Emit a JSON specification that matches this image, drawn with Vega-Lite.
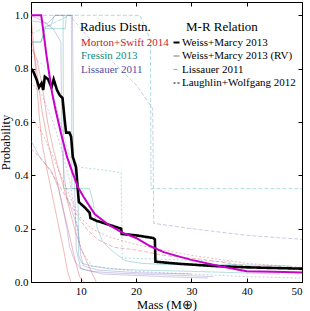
{
  "$schema": "https://vega.github.io/schema/vega-lite/v6.json",
  "width": 271,
  "height": 280,
  "autosize": "none",
  "padding": {"left": 31, "top": 2, "right": 8, "bottom": 29},
  "config": {
    "view": {"stroke": "black", "strokeWidth": 1},
    "font": "Liberation Serif",
    "axis": {"grid": false, "domainColor": "black", "tickColor": "black", "labelColor": "black", "titleColor": "black", "labelFont": "Liberation Serif", "titleFont": "Liberation Serif", "labelFontSize": 11, "titleFontSize": 12.5, "titleFontWeight": "normal", "tickSize": -4, "labelPadding": 7},
    "legend": {"labelFont": "Liberation Serif", "titleFont": "Liberation Serif", "titleFontWeight": "normal", "titleColor": "black"}
  },
  "datasets": {
    "faint": [
      {"id":"R1","src":"Morton+Swift 2014","mr":"Weiss+Marcy 2013","m":1,"p":1.0},{"id":"R1","src":"Morton+Swift 2014","mr":"Weiss+Marcy 2013","m":1.5,"p":0.88},{"id":"R1","src":"Morton+Swift 2014","mr":"Weiss+Marcy 2013","m":2,"p":0.75},{"id":"R1","src":"Morton+Swift 2014","mr":"Weiss+Marcy 2013","m":2.5,"p":0.62},{"id":"R1","src":"Morton+Swift 2014","mr":"Weiss+Marcy 2013","m":3,"p":0.52},{"id":"R1","src":"Morton+Swift 2014","mr":"Weiss+Marcy 2013","m":4,"p":0.41},{"id":"R1","src":"Morton+Swift 2014","mr":"Weiss+Marcy 2013","m":5,"p":0.31},{"id":"R1","src":"Morton+Swift 2014","mr":"Weiss+Marcy 2013","m":6,"p":0.21},{"id":"R1","src":"Morton+Swift 2014","mr":"Weiss+Marcy 2013","m":7,"p":0.11},{"id":"R1","src":"Morton+Swift 2014","mr":"Weiss+Marcy 2013","m":7.6,"p":0.04},{"id":"R1","src":"Morton+Swift 2014","mr":"Weiss+Marcy 2013","m":8.2,"p":0.0},
      {"id":"R2","src":"Morton+Swift 2014","mr":"Weiss+Marcy 2013 (RV)","m":1,"p":0.93},{"id":"R2","src":"Morton+Swift 2014","mr":"Weiss+Marcy 2013 (RV)","m":2,"p":0.8},{"id":"R2","src":"Morton+Swift 2014","mr":"Weiss+Marcy 2013 (RV)","m":3,"p":0.64},{"id":"R2","src":"Morton+Swift 2014","mr":"Weiss+Marcy 2013 (RV)","m":4,"p":0.53},{"id":"R2","src":"Morton+Swift 2014","mr":"Weiss+Marcy 2013 (RV)","m":5,"p":0.44},{"id":"R2","src":"Morton+Swift 2014","mr":"Weiss+Marcy 2013 (RV)","m":6,"p":0.35},{"id":"R2","src":"Morton+Swift 2014","mr":"Weiss+Marcy 2013 (RV)","m":7,"p":0.26},{"id":"R2","src":"Morton+Swift 2014","mr":"Weiss+Marcy 2013 (RV)","m":8,"p":0.17},{"id":"R2","src":"Morton+Swift 2014","mr":"Weiss+Marcy 2013 (RV)","m":9,"p":0.08},{"id":"R2","src":"Morton+Swift 2014","mr":"Weiss+Marcy 2013 (RV)","m":9.8,"p":0.02},{"id":"R2","src":"Morton+Swift 2014","mr":"Weiss+Marcy 2013 (RV)","m":10.5,"p":0.0},
      {"id":"R3","src":"Morton+Swift 2014","mr":"Weiss+Marcy 2013 (RV)","m":1,"p":0.88},{"id":"R3","src":"Morton+Swift 2014","mr":"Weiss+Marcy 2013 (RV)","m":2,"p":0.84},{"id":"R3","src":"Morton+Swift 2014","mr":"Weiss+Marcy 2013 (RV)","m":3,"p":0.74},{"id":"R3","src":"Morton+Swift 2014","mr":"Weiss+Marcy 2013 (RV)","m":4,"p":0.6},{"id":"R3","src":"Morton+Swift 2014","mr":"Weiss+Marcy 2013 (RV)","m":5,"p":0.5},{"id":"R3","src":"Morton+Swift 2014","mr":"Weiss+Marcy 2013 (RV)","m":6,"p":0.42},{"id":"R3","src":"Morton+Swift 2014","mr":"Weiss+Marcy 2013 (RV)","m":7,"p":0.35},{"id":"R3","src":"Morton+Swift 2014","mr":"Weiss+Marcy 2013 (RV)","m":8,"p":0.27},{"id":"R3","src":"Morton+Swift 2014","mr":"Weiss+Marcy 2013 (RV)","m":9,"p":0.19},{"id":"R3","src":"Morton+Swift 2014","mr":"Weiss+Marcy 2013 (RV)","m":10,"p":0.13},{"id":"R3","src":"Morton+Swift 2014","mr":"Weiss+Marcy 2013 (RV)","m":11,"p":0.08},{"id":"R3","src":"Morton+Swift 2014","mr":"Weiss+Marcy 2013 (RV)","m":12,"p":0.035},{"id":"R3","src":"Morton+Swift 2014","mr":"Weiss+Marcy 2013 (RV)","m":12.8,"p":0.0},
      {"id":"R4","src":"Morton+Swift 2014","mr":"Lissauer 2011","m":1,"p":0.5},{"id":"R4","src":"Morton+Swift 2014","mr":"Lissauer 2011","m":3,"p":0.46},{"id":"R4","src":"Morton+Swift 2014","mr":"Lissauer 2011","m":5,"p":0.4},{"id":"R4","src":"Morton+Swift 2014","mr":"Lissauer 2011","m":7,"p":0.33},{"id":"R4","src":"Morton+Swift 2014","mr":"Lissauer 2011","m":9,"p":0.26},{"id":"R4","src":"Morton+Swift 2014","mr":"Lissauer 2011","m":11,"p":0.2},{"id":"R4","src":"Morton+Swift 2014","mr":"Lissauer 2011","m":13,"p":0.16},{"id":"R4","src":"Morton+Swift 2014","mr":"Lissauer 2011","m":16,"p":0.13},{"id":"R4","src":"Morton+Swift 2014","mr":"Lissauer 2011","m":20,"p":0.12},{"id":"R4","src":"Morton+Swift 2014","mr":"Lissauer 2011","m":25,"p":0.1},{"id":"R4","src":"Morton+Swift 2014","mr":"Lissauer 2011","m":32,"p":0.085},{"id":"R4","src":"Morton+Swift 2014","mr":"Lissauer 2011","m":40,"p":0.06},{"id":"R4","src":"Morton+Swift 2014","mr":"Lissauer 2011","m":50,"p":0.045},
      {"id":"R5","src":"Morton+Swift 2014","mr":"Laughlin+Wolfgang 2012","m":1,"p":0.62},{"id":"R5","src":"Morton+Swift 2014","mr":"Laughlin+Wolfgang 2012","m":3,"p":0.56},{"id":"R5","src":"Morton+Swift 2014","mr":"Laughlin+Wolfgang 2012","m":5,"p":0.47},{"id":"R5","src":"Morton+Swift 2014","mr":"Laughlin+Wolfgang 2012","m":7,"p":0.37},{"id":"R5","src":"Morton+Swift 2014","mr":"Laughlin+Wolfgang 2012","m":8.5,"p":0.3},{"id":"R5","src":"Morton+Swift 2014","mr":"Laughlin+Wolfgang 2012","m":10,"p":0.24},{"id":"R5","src":"Morton+Swift 2014","mr":"Laughlin+Wolfgang 2012","m":12,"p":0.2},{"id":"R5","src":"Morton+Swift 2014","mr":"Laughlin+Wolfgang 2012","m":15,"p":0.17},{"id":"R5","src":"Morton+Swift 2014","mr":"Laughlin+Wolfgang 2012","m":20,"p":0.14},{"id":"R5","src":"Morton+Swift 2014","mr":"Laughlin+Wolfgang 2012","m":30,"p":0.1},{"id":"R5","src":"Morton+Swift 2014","mr":"Laughlin+Wolfgang 2012","m":40,"p":0.07},{"id":"R5","src":"Morton+Swift 2014","mr":"Laughlin+Wolfgang 2012","m":50,"p":0.055},
      {"id":"T1","src":"Fressin 2013","mr":"Weiss+Marcy 2013","m":1,"p":0.9},{"id":"T1","src":"Fressin 2013","mr":"Weiss+Marcy 2013","m":2.8,"p":0.9},{"id":"T1","src":"Fressin 2013","mr":"Weiss+Marcy 2013","m":3.7,"p":0.96},{"id":"T1","src":"Fressin 2013","mr":"Weiss+Marcy 2013","m":4.6,"p":0.96},{"id":"T1","src":"Fressin 2013","mr":"Weiss+Marcy 2013","m":5.2,"p":1.0},{"id":"T1","src":"Fressin 2013","mr":"Weiss+Marcy 2013","m":6.8,"p":1.0},{"id":"T1","src":"Fressin 2013","mr":"Weiss+Marcy 2013","m":6.9,"p":0.35},{"id":"T1","src":"Fressin 2013","mr":"Weiss+Marcy 2013","m":9.5,"p":0.35},{"id":"T1","src":"Fressin 2013","mr":"Weiss+Marcy 2013","m":9.6,"p":0.1},{"id":"T1","src":"Fressin 2013","mr":"Weiss+Marcy 2013","m":10.2,"p":0.07},{"id":"T1","src":"Fressin 2013","mr":"Weiss+Marcy 2013","m":12,"p":0.06},{"id":"T1","src":"Fressin 2013","mr":"Weiss+Marcy 2013","m":15,"p":0.05},{"id":"T1","src":"Fressin 2013","mr":"Weiss+Marcy 2013","m":20,"p":0.045},{"id":"T1","src":"Fressin 2013","mr":"Weiss+Marcy 2013","m":30,"p":0.04},{"id":"T1","src":"Fressin 2013","mr":"Weiss+Marcy 2013","m":46,"p":0.03},
      {"id":"T2","src":"Fressin 2013","mr":"Weiss+Marcy 2013 (RV)","m":1,"p":0.9},{"id":"T2","src":"Fressin 2013","mr":"Weiss+Marcy 2013 (RV)","m":2.8,"p":0.9},{"id":"T2","src":"Fressin 2013","mr":"Weiss+Marcy 2013 (RV)","m":3.5,"p":0.95},{"id":"T2","src":"Fressin 2013","mr":"Weiss+Marcy 2013 (RV)","m":7.2,"p":0.95},{"id":"T2","src":"Fressin 2013","mr":"Weiss+Marcy 2013 (RV)","m":7.4,"p":1.0},{"id":"T2","src":"Fressin 2013","mr":"Weiss+Marcy 2013 (RV)","m":8.3,"p":1.0},{"id":"T2","src":"Fressin 2013","mr":"Weiss+Marcy 2013 (RV)","m":8.4,"p":0.35},{"id":"T2","src":"Fressin 2013","mr":"Weiss+Marcy 2013 (RV)","m":11.6,"p":0.35},{"id":"T2","src":"Fressin 2013","mr":"Weiss+Marcy 2013 (RV)","m":12.2,"p":0.3},{"id":"T2","src":"Fressin 2013","mr":"Weiss+Marcy 2013 (RV)","m":13,"p":0.2},{"id":"T2","src":"Fressin 2013","mr":"Weiss+Marcy 2013 (RV)","m":14,"p":0.15},{"id":"T2","src":"Fressin 2013","mr":"Weiss+Marcy 2013 (RV)","m":15.5,"p":0.12},{"id":"T2","src":"Fressin 2013","mr":"Weiss+Marcy 2013 (RV)","m":18,"p":0.08},{"id":"T2","src":"Fressin 2013","mr":"Weiss+Marcy 2013 (RV)","m":21,"p":0.07},{"id":"T2","src":"Fressin 2013","mr":"Weiss+Marcy 2013 (RV)","m":26,"p":0.065},{"id":"T2","src":"Fressin 2013","mr":"Weiss+Marcy 2013 (RV)","m":38,"p":0.065},{"id":"T2","src":"Fressin 2013","mr":"Weiss+Marcy 2013 (RV)","m":48,"p":0.06},
      {"id":"T3","src":"Fressin 2013","mr":"Lissauer 2011","m":1,"p":0.93},{"id":"T3","src":"Fressin 2013","mr":"Lissauer 2011","m":4,"p":0.96},{"id":"T3","src":"Fressin 2013","mr":"Lissauer 2011","m":8,"p":1.0},{"id":"T3","src":"Fressin 2013","mr":"Lissauer 2011","m":20.7,"p":1.0},{"id":"T3","src":"Fressin 2013","mr":"Lissauer 2011","m":22,"p":0.94},{"id":"T3","src":"Fressin 2013","mr":"Lissauer 2011","m":22.6,"p":0.9},{"id":"T3","src":"Fressin 2013","mr":"Lissauer 2011","m":22.7,"p":0.35},{"id":"T3","src":"Fressin 2013","mr":"Lissauer 2011","m":50,"p":0.35},
      {"id":"T4","src":"Fressin 2013","mr":"Laughlin+Wolfgang 2012","m":1,"p":0.85},{"id":"T4","src":"Fressin 2013","mr":"Laughlin+Wolfgang 2012","m":4,"p":0.8},{"id":"T4","src":"Fressin 2013","mr":"Laughlin+Wolfgang 2012","m":6,"p":0.62},{"id":"T4","src":"Fressin 2013","mr":"Laughlin+Wolfgang 2012","m":8,"p":0.47},{"id":"T4","src":"Fressin 2013","mr":"Laughlin+Wolfgang 2012","m":10,"p":0.43},{"id":"T4","src":"Fressin 2013","mr":"Laughlin+Wolfgang 2012","m":14,"p":0.42},{"id":"T4","src":"Fressin 2013","mr":"Laughlin+Wolfgang 2012","m":17.3,"p":0.41},{"id":"T4","src":"Fressin 2013","mr":"Laughlin+Wolfgang 2012","m":17.5,"p":0.09},{"id":"T4","src":"Fressin 2013","mr":"Laughlin+Wolfgang 2012","m":25,"p":0.085},{"id":"T4","src":"Fressin 2013","mr":"Laughlin+Wolfgang 2012","m":32,"p":0.08},{"id":"T4","src":"Fressin 2013","mr":"Laughlin+Wolfgang 2012","m":37,"p":0.075},{"id":"T4","src":"Fressin 2013","mr":"Laughlin+Wolfgang 2012","m":38.5,"p":0.04},{"id":"T4","src":"Fressin 2013","mr":"Laughlin+Wolfgang 2012","m":50,"p":0.035},
      {"id":"P1","src":"Lissauer 2011","mr":"Weiss+Marcy 2013","m":1,"p":0.53},{"id":"P1","src":"Lissauer 2011","mr":"Weiss+Marcy 2013","m":2.8,"p":0.46},{"id":"P1","src":"Lissauer 2011","mr":"Weiss+Marcy 2013","m":4.6,"p":0.42},{"id":"P1","src":"Lissauer 2011","mr":"Weiss+Marcy 2013","m":6,"p":0.35},{"id":"P1","src":"Lissauer 2011","mr":"Weiss+Marcy 2013","m":7,"p":0.25},{"id":"P1","src":"Lissauer 2011","mr":"Weiss+Marcy 2013","m":7.5,"p":0.2},{"id":"P1","src":"Lissauer 2011","mr":"Weiss+Marcy 2013","m":8,"p":0.13},{"id":"P1","src":"Lissauer 2011","mr":"Weiss+Marcy 2013","m":9,"p":0.075},{"id":"P1","src":"Lissauer 2011","mr":"Weiss+Marcy 2013","m":10,"p":0.05},{"id":"P1","src":"Lissauer 2011","mr":"Weiss+Marcy 2013","m":12,"p":0.04},{"id":"P1","src":"Lissauer 2011","mr":"Weiss+Marcy 2013","m":15,"p":0.035},{"id":"P1","src":"Lissauer 2011","mr":"Weiss+Marcy 2013","m":20,"p":0.03},{"id":"P1","src":"Lissauer 2011","mr":"Weiss+Marcy 2013","m":28,"p":0.025},{"id":"P1","src":"Lissauer 2011","mr":"Weiss+Marcy 2013","m":34,"p":0.02},
      {"id":"P2","src":"Lissauer 2011","mr":"Weiss+Marcy 2013 (RV)","m":1,"p":1.0},{"id":"P2","src":"Lissauer 2011","mr":"Weiss+Marcy 2013 (RV)","m":3,"p":0.98},{"id":"P2","src":"Lissauer 2011","mr":"Weiss+Marcy 2013 (RV)","m":5,"p":0.95},{"id":"P2","src":"Lissauer 2011","mr":"Weiss+Marcy 2013 (RV)","m":6.4,"p":0.9},{"id":"P2","src":"Lissauer 2011","mr":"Weiss+Marcy 2013 (RV)","m":6.6,"p":0.5},{"id":"P2","src":"Lissauer 2011","mr":"Weiss+Marcy 2013 (RV)","m":7,"p":0.4},{"id":"P2","src":"Lissauer 2011","mr":"Weiss+Marcy 2013 (RV)","m":7.5,"p":0.32},{"id":"P2","src":"Lissauer 2011","mr":"Weiss+Marcy 2013 (RV)","m":8.5,"p":0.26},{"id":"P2","src":"Lissauer 2011","mr":"Weiss+Marcy 2013 (RV)","m":9.5,"p":0.2},{"id":"P2","src":"Lissauer 2011","mr":"Weiss+Marcy 2013 (RV)","m":10,"p":0.1},{"id":"P2","src":"Lissauer 2011","mr":"Weiss+Marcy 2013 (RV)","m":10.5,"p":0.06},{"id":"P2","src":"Lissauer 2011","mr":"Weiss+Marcy 2013 (RV)","m":13,"p":0.045},{"id":"P2","src":"Lissauer 2011","mr":"Weiss+Marcy 2013 (RV)","m":20,"p":0.035},{"id":"P2","src":"Lissauer 2011","mr":"Weiss+Marcy 2013 (RV)","m":30,"p":0.03},
      {"id":"P3","src":"Lissauer 2011","mr":"Lissauer 2011","m":1,"p":1.0},{"id":"P3","src":"Lissauer 2011","mr":"Lissauer 2011","m":8,"p":1.0},{"id":"P3","src":"Lissauer 2011","mr":"Lissauer 2011","m":10,"p":0.95},{"id":"P3","src":"Lissauer 2011","mr":"Lissauer 2011","m":13,"p":0.88},{"id":"P3","src":"Lissauer 2011","mr":"Lissauer 2011","m":16,"p":0.82},{"id":"P3","src":"Lissauer 2011","mr":"Lissauer 2011","m":20,"p":0.74},{"id":"P3","src":"Lissauer 2011","mr":"Lissauer 2011","m":22,"p":0.68},{"id":"P3","src":"Lissauer 2011","mr":"Lissauer 2011","m":23,"p":0.65},{"id":"P3","src":"Lissauer 2011","mr":"Lissauer 2011","m":23.2,"p":0.22},{"id":"P3","src":"Lissauer 2011","mr":"Lissauer 2011","m":30,"p":0.2},{"id":"P3","src":"Lissauer 2011","mr":"Lissauer 2011","m":40,"p":0.175},{"id":"P3","src":"Lissauer 2011","mr":"Lissauer 2011","m":50,"p":0.16},
      {"id":"P4","src":"Lissauer 2011","mr":"Laughlin+Wolfgang 2012","m":1,"p":0.75},{"id":"P4","src":"Lissauer 2011","mr":"Laughlin+Wolfgang 2012","m":3,"p":0.7},{"id":"P4","src":"Lissauer 2011","mr":"Laughlin+Wolfgang 2012","m":5,"p":0.6},{"id":"P4","src":"Lissauer 2011","mr":"Laughlin+Wolfgang 2012","m":6.5,"p":0.5},{"id":"P4","src":"Lissauer 2011","mr":"Laughlin+Wolfgang 2012","m":8,"p":0.38},{"id":"P4","src":"Lissauer 2011","mr":"Laughlin+Wolfgang 2012","m":9,"p":0.25},{"id":"P4","src":"Lissauer 2011","mr":"Laughlin+Wolfgang 2012","m":10,"p":0.12},{"id":"P4","src":"Lissauer 2011","mr":"Laughlin+Wolfgang 2012","m":12,"p":0.06},{"id":"P4","src":"Lissauer 2011","mr":"Laughlin+Wolfgang 2012","m":20,"p":0.04},{"id":"P4","src":"Lissauer 2011","mr":"Laughlin+Wolfgang 2012","m":40,"p":0.02},{"id":"P4","src":"Lissauer 2011","mr":"Laughlin+Wolfgang 2012","m":50,"p":0.015},
      {"id":"P5","src":"Lissauer 2011","mr":"Weiss+Marcy 2013","m":1,"p":0.98},{"id":"P5","src":"Lissauer 2011","mr":"Weiss+Marcy 2013","m":4,"p":0.97},{"id":"P5","src":"Lissauer 2011","mr":"Weiss+Marcy 2013","m":5.5,"p":1.0},{"id":"P5","src":"Lissauer 2011","mr":"Weiss+Marcy 2013","m":8.5,"p":1.0},{"id":"P5","src":"Lissauer 2011","mr":"Weiss+Marcy 2013","m":8.7,"p":0.5},{"id":"P5","src":"Lissauer 2011","mr":"Weiss+Marcy 2013","m":9.2,"p":0.12},{"id":"P5","src":"Lissauer 2011","mr":"Weiss+Marcy 2013","m":10,"p":0.05},{"id":"P5","src":"Lissauer 2011","mr":"Weiss+Marcy 2013","m":14,"p":0.03},{"id":"P5","src":"Lissauer 2011","mr":"Weiss+Marcy 2013","m":25,"p":0.02},{"id":"P5","src":"Lissauer 2011","mr":"Weiss+Marcy 2013","m":33,"p":0.015}
    ],
    "black": [
      {"mr":"Weiss+Marcy 2013","m":1,"p":0.8},{"mr":"Weiss+Marcy 2013","m":1.4,"p":0.79},{"mr":"Weiss+Marcy 2013","m":2,"p":0.76},{"mr":"Weiss+Marcy 2013","m":2.45,"p":0.73},{"mr":"Weiss+Marcy 2013","m":2.9,"p":0.745},{"mr":"Weiss+Marcy 2013","m":3.2,"p":0.72},{"mr":"Weiss+Marcy 2013","m":3.5,"p":0.77},{"mr":"Weiss+Marcy 2013","m":4.1,"p":0.76},{"mr":"Weiss+Marcy 2013","m":4.7,"p":0.73},{"mr":"Weiss+Marcy 2013","m":5.1,"p":0.76},{"mr":"Weiss+Marcy 2013","m":5.7,"p":0.72},{"mr":"Weiss+Marcy 2013","m":6.2,"p":0.7},{"mr":"Weiss+Marcy 2013","m":6.7,"p":0.69},{"mr":"Weiss+Marcy 2013","m":7.05,"p":0.615},{"mr":"Weiss+Marcy 2013","m":7.35,"p":0.56},{"mr":"Weiss+Marcy 2013","m":7.95,"p":0.56},{"mr":"Weiss+Marcy 2013","m":8.25,"p":0.545},{"mr":"Weiss+Marcy 2013","m":8.55,"p":0.47},{"mr":"Weiss+Marcy 2013","m":9.15,"p":0.43},{"mr":"Weiss+Marcy 2013","m":9.45,"p":0.35},{"mr":"Weiss+Marcy 2013","m":9.65,"p":0.3},{"mr":"Weiss+Marcy 2013","m":10.7,"p":0.28},{"mr":"Weiss+Marcy 2013","m":11.6,"p":0.26},{"mr":"Weiss+Marcy 2013","m":11.75,"p":0.24},{"mr":"Weiss+Marcy 2013","m":12.8,"p":0.23},{"mr":"Weiss+Marcy 2013","m":15.2,"p":0.214},{"mr":"Weiss+Marcy 2013","m":17.3,"p":0.2},{"mr":"Weiss+Marcy 2013","m":17.4,"p":0.18},{"mr":"Weiss+Marcy 2013","m":20,"p":0.175},{"mr":"Weiss+Marcy 2013","m":23.1,"p":0.165},{"mr":"Weiss+Marcy 2013","m":23.4,"p":0.16},{"mr":"Weiss+Marcy 2013","m":23.5,"p":0.076},{"mr":"Weiss+Marcy 2013","m":28,"p":0.068},{"mr":"Weiss+Marcy 2013","m":34,"p":0.06},{"mr":"Weiss+Marcy 2013","m":40,"p":0.055},{"mr":"Weiss+Marcy 2013","m":50,"p":0.05}
    ],
    "magenta": [
      {"m":1,"p":1.0},{"m":2.85,"p":1.0},{"m":3.3,"p":0.93},{"m":3.8,"p":0.85},{"m":4.3,"p":0.78},{"m":4.8,"p":0.71},{"m":5.5,"p":0.64},{"m":6.4,"p":0.56},{"m":7.5,"p":0.47},{"m":8.5,"p":0.41},{"m":9.5,"p":0.355},{"m":10.5,"p":0.32},{"m":12.5,"p":0.255},{"m":15,"p":0.215},{"m":17.5,"p":0.185},{"m":20,"p":0.165},{"m":22.5,"p":0.135},{"m":25,"p":0.112},{"m":27.5,"p":0.097},{"m":30,"p":0.083},{"m":35,"p":0.06},{"m":40,"p":0.04},{"m":45,"p":0.038},{"m":50,"p":0.036}
    ]
  },
  "resolve": {"axis": {"x": "independent", "y": "independent"}},
  "layer": [
    {
      "data": {"name": "faint"},
      "mark": {"type": "line", "strokeWidth": 1, "opacity": 0.35, "clip": true},
      "encoding": {
        "x": {"field": "m", "type": "quantitative", "scale": {"domain": [1, 50], "nice": false, "zero": false}, "axis": {"values": [10, 20, 30, 40, 50], "title": "Mass (M⊕)", "titlePadding": 2, "titleFontWeight": "normal"}},
        "y": {"field": "p", "type": "quantitative", "scale": {"domain": [0, 1.05], "nice": false}, "axis": {"values": [0, 0.2, 0.4, 0.6, 0.8, 1.0], "format": ".1f", "title": "Probability", "titlePadding": 2, "titleFontWeight": "normal"}},
        "detail": {"field": "id"},
        "color": {"field": "src", "type": "nominal", "scale": {"domain": ["Morton+Swift 2014", "Fressin 2013", "Lissauer 2011"], "range": ["#d62d2d", "#1f9e94", "#6c63b5"]},
          "legend": {"title": "Radius Distn.", "orient": "none", "legendX": 49, "legendY": 19, "symbolSize": 0, "symbolStrokeWidth": 0, "symbolOpacity": 0, "labelOffset": -10, "labelFontSize": 11, "titleFontSize": 13, "titlePadding": 3, "rowPadding": 1.5,
            "labelColor": {"expr": "datum.value === 'Morton+Swift 2014' ? '#c8232b' : (datum.value === 'Fressin 2013' ? '#128a80' : '#564da6')"},
            "encode": {"labels": {"update": {"opacity": {"value": 1}}}}}},
        "strokeDash": {"field": "mr", "type": "nominal", "scale": {"domain": ["Weiss+Marcy 2013", "Weiss+Marcy 2013 (RV)", "Lissauer 2011", "Laughlin+Wolfgang 2012"], "range": [[1, 0], [1, 0], [4, 2], [2, 2]]},
          "legend": {"title": "M-R Relation", "orient": "none", "legendX": 140, "legendY": 19, "symbolSize": 36, "labelOffset": 0, "labelFontSize": 11, "labelColor": "black", "titleFontSize": 13, "titlePadding": 3, "rowPadding": 1.5, "symbolOpacity": 1,
            "symbolStrokeColor": {"expr": "datum.value === 'Weiss+Marcy 2013 (RV)' ? '#777777' : (datum.value === 'Lissauer 2011' ? '#aaaaaa' : 'black')"},
            "symbolStrokeWidth": {"expr": "datum.value === 'Weiss+Marcy 2013' ? 2.2 : 1.2"},
            "encode": {"title": {"update": {"dx": {"value": 15}}}, "labels": {"update": {"opacity": {"value": 1}}}}}}
      }
    },
    {
      "data": {"name": "black"},
      "mark": {"type": "line", "color": "black", "strokeWidth": 2.6, "clip": true},
      "encoding": {
        "x": {"field": "m", "type": "quantitative", "axis": null},
        "y": {"field": "p", "type": "quantitative", "axis": null},
        "strokeDash": {"field": "mr", "type": "nominal"}
      }
    },
    {
      "data": {"name": "magenta"},
      "mark": {"type": "line", "color": "#c800c8", "strokeWidth": 2, "clip": true},
      "encoding": {
        "x": {"field": "m", "type": "quantitative", "axis": {"orient": "top", "values": [10, 20, 30, 40, 50], "labels": false, "title": null}},
        "y": {"field": "p", "type": "quantitative", "axis": {"orient": "right", "values": [0, 0.2, 0.4, 0.6, 0.8, 1.0], "labels": false, "title": null}}
      }
    }
  ]
}
